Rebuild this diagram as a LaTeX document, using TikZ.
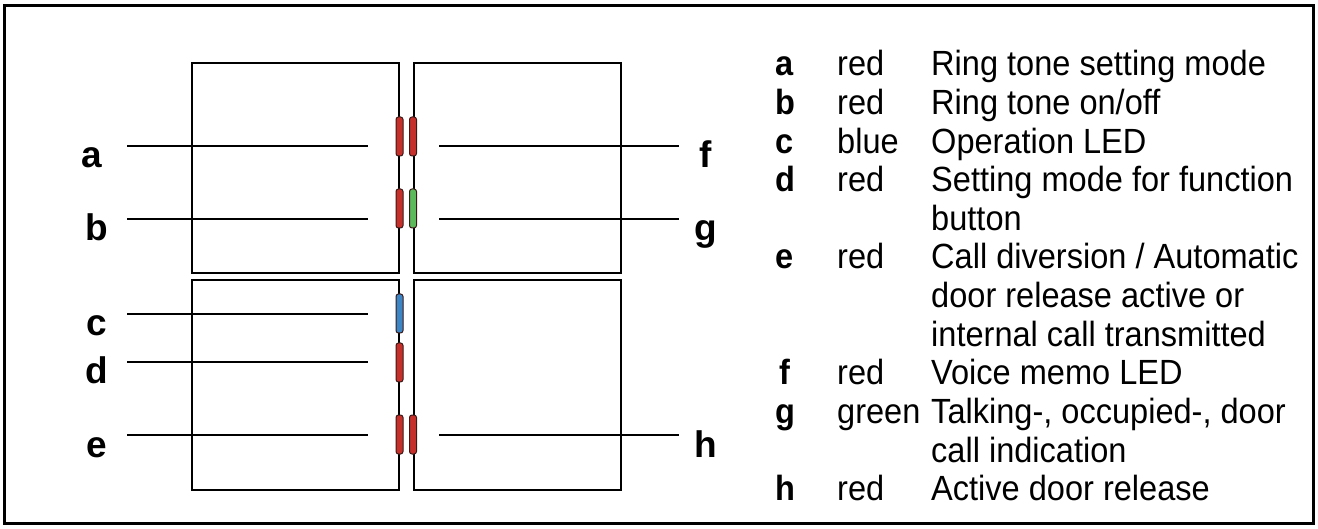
\documentclass[tikz,border=0pt]{standalone}
\usepackage{fontspec}
\setmainfont{Liberation Sans}
\newfontfamily\keyfont[FakeStretch=0.93]{Liberation Sans}
\usepackage{xcolor}

\definecolor{ledred}{HTML}{C6302B}
\definecolor{ledblue}{HTML}{3C86C6}
\definecolor{ledgreen}{HTML}{5DBA5A}
\definecolor{ledrim}{HTML}{3A1A18}

\tikzset{
    panel/.style={draw=black, line width=2pt},
    led/.style={draw=ledrim, line width=1pt, rounded corners=2.5pt,
        minimum width=7pt, minimum height=39pt, inner sep=0pt},
    leader/.style={draw=black, line width=1.6pt},
    tag/.style={font=\bfseries\fontsize{37}{37}\selectfont, anchor=base, inner sep=0pt},
    legend/.style={font=\keyfont\fontsize{35}{38}\selectfont, anchor=base west, inner sep=0pt},
    legendkey/.style={legend, font=\keyfont\bfseries\fontsize{35}{38}\selectfont}
}

\begin{document}
\begin{tikzpicture}[x=1pt, y=-1pt]
    \useasboundingbox (0,0) rectangle (1318,529);
    \draw[line width=3pt] (4,6) rectangle (1313,523);

    \draw[panel] (192,63) rectangle (399,273);
    \draw[panel] (414,63) rectangle (621,273);
    \draw[panel] (192,280) rectangle (399,490);
    \draw[panel] (414,280) rectangle (621,490);

    \node[led, fill=ledred]   (ledA) at (399.5,136.5) {};
    \node[led, fill=ledred]   (ledB) at (399.5,208.5) {};
    \node[led, fill=ledblue]  (ledC) at (399.5,313.5) {};
    \node[led, fill=ledred]   (ledD) at (399.5,362.5) {};
    \node[led, fill=ledred]   (ledE) at (399.5,434.5) {};
    \node[led, fill=ledred]   (ledF) at (413,136.5) {};
    \node[led, fill=ledgreen] (ledG) at (413,208.5) {};
    \node[led, fill=ledred]   (ledH) at (413,434.5) {};

    \node[tag] (tagA) at (92,168) {a};
    \node[tag] (tagB) at (97,241) {b};
    \node[tag] (tagC) at (97,336) {c};
    \node[tag] (tagD) at (97,384) {d};
    \node[tag] (tagE) at (97,457) {e};
    \node[tag] (tagF) at (706,168) {f};
    \node[tag] (tagG) at (706,241) {g};
    \node[tag] (tagH) at (706,457) {h};

    \coordinate (a1) at (127,146);  \coordinate (a2) at (368,146);
    \coordinate (b1) at (127,219);  \coordinate (b2) at (368,219);
    \coordinate (c1) at (127,314);  \coordinate (c2) at (368,314);
    \coordinate (d1) at (127,362);  \coordinate (d2) at (368,362);
    \coordinate (e1) at (127,435);  \coordinate (e2) at (368,435);
    \coordinate (f1) at (439,146);  \coordinate (f2) at (679,146);
    \coordinate (g1) at (439,219);  \coordinate (g2) at (679,219);
    \coordinate (h1) at (439,435);  \coordinate (h2) at (679,435);

    \draw[leader] (a1) -- (a2);
    \draw[leader] (b1) -- (b2);
    \draw[leader] (c1) -- (c2);
    \draw[leader] (d1) -- (d2);
    \draw[leader] (e1) -- (e2);
    \draw[leader] (f1) -- (f2);
    \draw[leader] (g1) -- (g2);
    \draw[leader] (h1) -- (h2);

    \node[legendkey] (keyA) at (775,76) {a};
    \node[legend] (colA) at (837,76) {red};
    \node[legend] (txtA) at (931,76) {Ring tone setting mode};
    \node[legendkey] (keyB) at (775,114.6) {b};
    \node[legend] (colB) at (837,114.6) {red};
    \node[legend] (txtB) at (931,114.6) {Ring tone on/off};
    \node[legendkey] (keyC) at (775,153.2) {c};
    \node[legend] (colC) at (837,153.2) {blue};
    \node[legend] (txtC) at (931,153.2) {Operation LED};
    \node[legendkey] (keyD) at (775,191.8) {d};
    \node[legend] (colD) at (837,191.8) {red};
    \node[legend] (txtD) at (931,191.8) {Setting mode for function};
    \node[legend] (txtD2) at (931,230.4) {button};
    \node[legendkey] (keyE) at (775,269) {e};
    \node[legend] (colE) at (837,269) {red};
    \node[legend] (txtE) at (931,269) {Call diversion / Automatic};
    \node[legend] (txtE2) at (931,307.6) {door release active or};
    \node[legend] (txtE3) at (931,346.2) {internal call transmitted};
    \node[legendkey] (keyF) at (779,384.8) {f};
    \node[legend] (colF) at (837,384.8) {red};
    \node[legend] (txtF) at (931,384.8) {Voice memo LED};
    \node[legendkey] (keyG) at (775,423.4) {g};
    \node[legend] (colG) at (837,423.4) {green};
    \node[legend] (txtG) at (931,423.4) {Talking-, occupied-, door};
    \node[legend] (txtG2) at (931,462) {call indication};
    \node[legendkey] (keyH) at (775,500.6) {h};
    \node[legend] (colH) at (837,500.6) {red};
    \node[legend] (txtH) at (931,500.6) {Active door release};
\end{tikzpicture}
\end{document}
